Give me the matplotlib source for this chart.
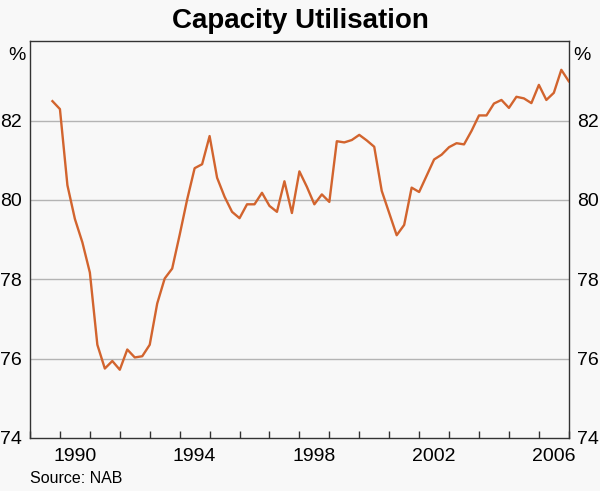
import numpy as np
import matplotlib
matplotlib.use("Agg")
import matplotlib.pyplot as plt

plt.rcParams['font.family'] = ['Liberation Sans', 'DejaVu Sans']

title = "Capacity Utilisation"
source = "Source: NAB"
start_quarter = 1989.75  # first observation (quarterly)
values = [82.49, 82.29, 80.37, 79.52, 78.93, 78.17, 76.35, 75.75, 75.94, 75.72,
          76.23, 76.03, 76.06, 76.35, 77.39, 78.02, 78.27, 79.12, 80.01, 80.80,
          80.90, 81.61, 80.56, 80.08, 79.70, 79.54, 79.89, 79.89, 80.18, 79.85,
          79.70, 80.47, 79.67, 80.72,
          80.33, 79.89, 80.14, 79.95, 81.48, 81.45, 81.51, 81.64, 81.50, 81.34,
          80.23, 79.67, 79.11, 79.37, 80.31, 80.20, 80.61, 81.02, 81.14, 81.33,
          81.43, 81.40, 81.74, 82.13, 82.13, 82.43, 82.52, 82.32, 82.60, 82.56,
          82.44, 82.90, 82.52, 82.70, 83.28, 82.99]
year_labels = [1990, 1994, 1998, 2002, 2006]
y_ticks = [74, 76, 78, 80, 82]

x = start_quarter + 0.25 * np.arange(len(values))

bg = '#f8f8f8'
fig = plt.figure(figsize=(6.0, 4.91), dpi=100, facecolor=bg)
ax = fig.add_axes([0.05, 0.108, 0.898, 0.808], facecolor=bg)

ax.plot(x, values, color='#d2642e', lw=1.7, zorder=3)

ax.set_xlim(1989, 2007)
ax.set_ylim(74, 84)

for yv in y_ticks[1:]:
    ax.axhline(yv, color='#b4b4b4', lw=1.0, zorder=1)

ax.set_yticks(y_ticks)
ax.set_yticklabels([str(v) for v in y_ticks])
ax.tick_params(axis='y', length=0, labelsize=14, pad=6,
               left=True, right=True, labelleft=True, labelright=True)

ax.set_xticks(np.arange(1989, 2008))
ax.set_xticklabels([])
ax.set_xticks([y + 0.5 for y in year_labels], minor=True)
ax.set_xticklabels([str(y) for y in year_labels], minor=True)
ax.tick_params(axis='x', which='major', direction='in', length=5, width=1, color='#333333')
ax.tick_params(axis='x', which='minor', length=0, labelsize=14, pad=7)

for s in ax.spines.values():
    s.set_color('#333333')
    s.set_linewidth(1.0)

ax.text(-0.008, 0.985, '%', transform=ax.transAxes, ha='right', va='top', fontsize=14)
ax.text(1.008, 0.985, '%', transform=ax.transAxes, ha='left', va='top', fontsize=14)

fig.text(0.5, 0.958, title, ha='center', va='center', fontsize=20, fontweight='bold')
fig.text(0.05, 0.025, source, ha='left', va='center', fontsize=11.5)

fig.savefig('out.png', dpi=100, facecolor=bg)
